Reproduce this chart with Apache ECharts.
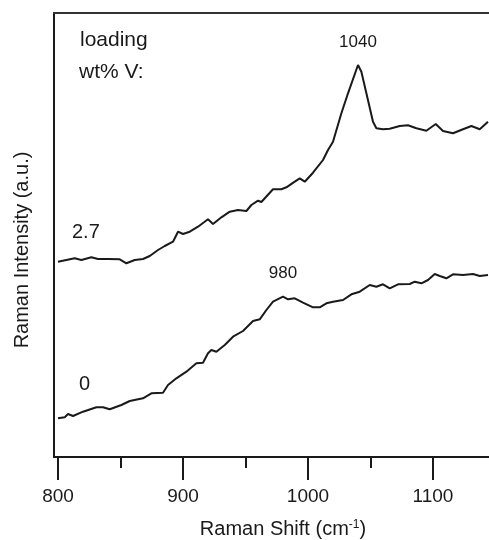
<!DOCTYPE html>
<html>
<head>
<meta charset="utf-8">
<script src="https://cdn.jsdelivr.net/npm/echarts@6/dist/echarts.min.js"></script>
<style>
  html, body { margin: 0; padding: 0; background: #fff; }
  #chart { width: 489px; height: 540px; }
</style>
</head>
<body>
<div id="chart"></div>
<script>
// Raman spectra of the two catalysts (intensity in arbitrary units)

// 2.7 wt% V sample
const shiftLoaded = [800.0, 806.7, 813.4, 818.7, 826.7, 832.0, 840.0, 849.4, 854.7, 861.4,
  868.0, 873.4, 880.0, 885.4, 892.0, 896.0, 900.0, 905.4, 912.0, 920.0,
  924.0, 930.7, 937.4, 944.0, 950.7, 954.7, 960.0, 962.7, 972.0, 978.7,
  982.7, 989.4, 993.4, 997.4, 1004.0, 1012.0, 1016.0, 1020.0, 1026.7, 1032.0,
  1040.0, 1042.7, 1046.7, 1052.0, 1054.7, 1060.0, 1065.4, 1073.4, 1080.0, 1086.7,
  1094.7, 1102.2, 1108.0, 1116.0, 1124.0, 1130.7, 1137.4, 1144.0];
const intensityLoaded = [195.3, 197, 198.7, 197, 199.7, 198, 198, 197.7, 193.7, 197,
  198, 201, 207, 211, 215.3, 225.3, 223, 225.3, 230.3, 237.7,
  233, 239.7, 245.3, 247, 246, 252, 256.3, 255, 267.7, 267.7,
  269.7, 275.3, 278.7, 275.3, 284.3, 297, 307, 315.3, 343.7, 363.7,
  392, 385.3, 363.7, 335.3, 328.7, 327.7, 328.3, 331, 331.7, 328.7,
  326.3, 333, 326, 323.7, 327.7, 331, 327.7, 335.3];

// 0 wt% V (bare support)
const shiftBare = [800.0, 805.4, 808.0, 812.0, 820.0, 830.7, 836.0, 841.4, 850.7, 857.4,
  868.0, 874.7, 884.0, 888.0, 894.7, 902.7, 910.7, 916.0, 920.0, 922.7,
  926.7, 933.4, 940.0, 948.0, 956.0, 961.4, 966.7, 972.0, 980.0, 984.0,
  989.4, 996.0, 1004.0, 1009.4, 1014.7, 1020.0, 1028.0, 1034.7, 1041.4, 1049.4,
  1054.7, 1060.0, 1065.4, 1072.0, 1081.4, 1085.4, 1090.7, 1096.0, 1101.4, 1105.4,
  1110.7, 1116.0, 1124.0, 1132.0, 1137.4, 1144.0];
const intensityBare = [38.7, 39.7, 43, 41, 45.3, 49.7, 49.7, 47.7, 52, 56,
  58.7, 63.7, 64.3, 72, 78.7, 85.3, 93.7, 94.3, 103.7, 107,
  105.3, 112, 120.3, 126, 136, 137.7, 147, 155.3, 160.3, 157.7,
  158.7, 154.3, 149.7, 149.7, 153.7, 155.3, 157, 162.7, 165.3, 172,
  170.3, 172.7, 168.7, 172.7, 173, 175.3, 173.7, 177, 183, 181,
  178.7, 182.7, 182, 183, 181, 182];

const majorTicks = [800, 900, 1000, 1100];
const minorTicks = [850, 950, 1050];
const peakLoaded = 1040;
const peakBare = 980;

const FONT = '"Liberation Sans", Arial, Helvetica, sans-serif';
const INK = '#1a1a1a';
const X_MIN = 796.8, X_MAX = 1144.8;

function pairs(xs, ys) { return xs.map((x, i) => [x, ys[i]]); }
function valueAt(xs, ys, x) { return ys[xs.indexOf(x)]; }

function peakMark(xs, ys, x) {
  return {
    symbol: 'circle',
    symbolSize: 1,
    itemStyle: { color: 'rgba(0,0,0,0)' },
    label: {
      show: true, position: 'top', distance: 14,
      formatter: '{c}', fontFamily: FONT, fontSize: 17, color: INK
    },
    data: [{ coord: [x, valueAt(xs, ys, x)], value: x }]
  };
}

const chart = echarts.init(document.getElementById('chart'), null, { renderer: 'canvas' });

chart.setOption({
  animation: false,
  backgroundColor: '#fff',
  grid: { left: 54, right: 0, top: 13, bottom: 83, containLabel: false, outerBoundsMode: 'none' },
  xAxis: [
    {
      type: 'value', min: X_MIN, max: X_MAX, position: 'bottom',
      axisLine: { show: true, lineStyle: { color: INK, width: 2 } },
      axisTick: { show: true, customValues: majorTicks, length: 23, lineStyle: { color: INK, width: 2 } },
      axisLabel: {
        show: true, customValues: majorTicks, margin: 30, fontSize: 19, color: INK, fontFamily: FONT,
        formatter: v => String(v)
      },
      splitLine: { show: false },
      name: 'Raman Shift (cm{sup|-1})',
      nameLocation: 'middle', nameGap: 62,
      nameTextStyle: {
        fontFamily: FONT, fontSize: 20, color: INK, padding: [0, 0, 0, 23],
        rich: { sup: { fontFamily: FONT, fontSize: 12, color: INK, padding: [0, 0, 9, 0] } }
      }
    },
    {
      type: 'value', min: X_MIN, max: X_MAX, position: 'bottom', offset: 0,
      axisLine: { show: false },
      axisTick: { show: true, customValues: minorTicks, length: 11, lineStyle: { color: INK, width: 2 } },
      axisLabel: { show: false },
      splitLine: { show: false }
    },
    {
      type: 'value', min: X_MIN, max: X_MAX, position: 'top',
      axisLine: { show: true, lineStyle: { color: '#333', width: 2 } },
      axisTick: { show: false },
      axisLabel: { show: false },
      splitLine: { show: false }
    }
  ],
  yAxis: {
    type: 'value', min: 0, max: 444,
    axisLine: { show: true, lineStyle: { color: INK, width: 2 } },
    axisTick: { show: false },
    axisLabel: { show: false },
    splitLine: { show: false }
  },
  series: [
    {
      name: '2.7', type: 'line', xAxisIndex: 0, yAxisIndex: 0,
      data: pairs(shiftLoaded, intensityLoaded),
      showSymbol: false, symbol: 'none',
      lineStyle: { color: INK, width: 2 },
      markPoint: peakMark(shiftLoaded, intensityLoaded, peakLoaded)
    },
    {
      name: '0', type: 'line', xAxisIndex: 0, yAxisIndex: 0,
      data: pairs(shiftBare, intensityBare),
      showSymbol: false, symbol: 'none',
      lineStyle: { color: INK, width: 2 },
      markPoint: peakMark(shiftBare, intensityBare, peakBare)
    }
  ],
  graphic: [
    { type: 'text', left: 80, top: 30, style: { text: 'loading', font: '21px ' + FONT, fill: INK } },
    { type: 'text', left: 79, top: 62, style: { text: 'wt% V:', font: '21px ' + FONT, fill: INK } },
    { type: 'text', left: 72, top: 222, style: { text: '2.7', font: '20px ' + FONT, fill: INK } },
    { type: 'text', left: 79, top: 374, style: { text: '0', font: '20px ' + FONT, fill: INK } },
    {
      type: 'text', x: 22, y: 250, rotation: Math.PI / 2,
      style: { text: 'Raman Intensity (a.u.)', font: '20px ' + FONT, fill: INK, align: 'center', verticalAlign: 'middle' }
    }
  ]
});
</script>
</body>
</html>
